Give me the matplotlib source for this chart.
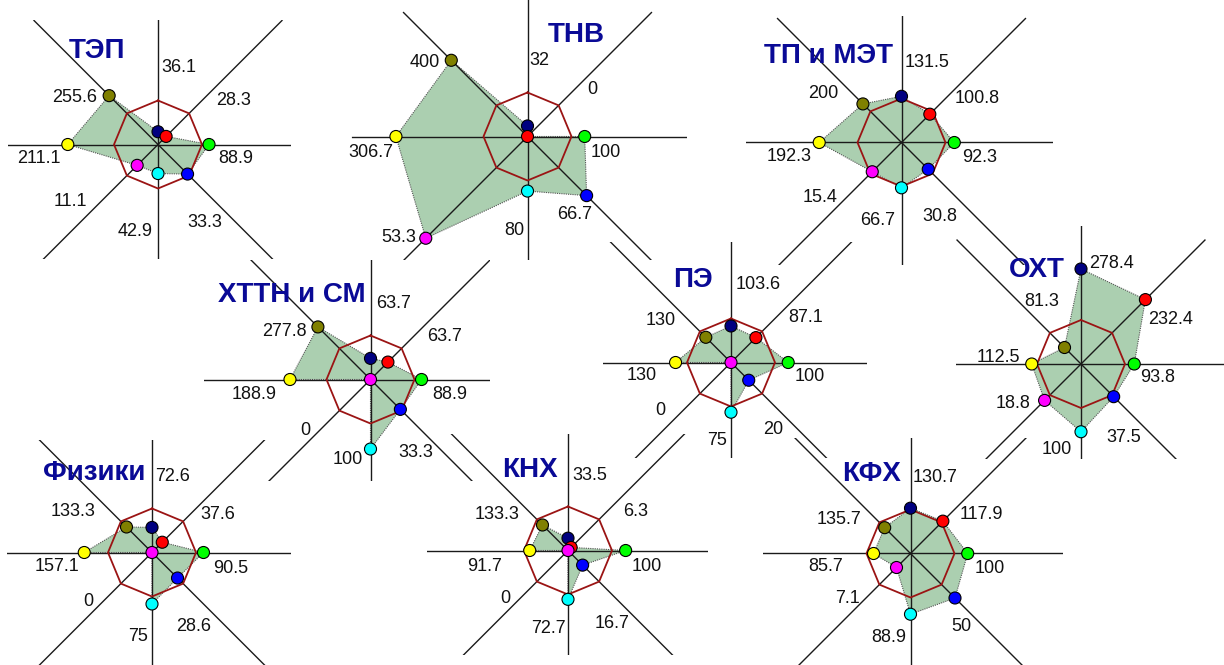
import numpy as np
import matplotlib

matplotlib.use("Agg")
import matplotlib.pyplot as plt
from matplotlib.transforms import Bbox, TransformedBbox

plt.rcParams["font.family"] = ["Liberation Sans", "DejaVu Sans"]

W, H = 1224, 665
SPOKE_MAX = 400   # value at the outer end of every spoke
SPOKE_PX = 176    # spoke length in pixels
REF_LEVEL = 100   # the red octagon

# axis order: N, NE, E, SE, S, SW, W, NW
dot_colors = ["#000080", "#ff0000", "#00ff00", "#0000ff",
              "#00ffff", "#ff00ff", "#ffff00", "#808000"]

titles = ["ТЭП", "ТНВ", "ТП и МЭТ", "ОХТ", "ХТТН и СМ", "ПЭ", "Физики", "КНХ", "КФХ"]

tep_labels = ["36.1", "28.3", "88.9", "33.3", "42.9", "11.1", "211.1", "255.6"]
tep_values = [29, 26, 116, 95, 66, 67, 205, 157]

tnv_labels = ["32", "0", "100", "66.7", "80", "53.3", "306.7", "400"]
tnv_values = [24, 0, 130, 190, 124, 327, 299, 245]

tp_labels = ["131.5", "100.8", "92.3", "30.8", "66.7", "15.4", "192.3", "200"]
tp_values = [105, 91, 120, 86, 103, 94, 187, 124]

oht_labels = ["278.4", "232.4", "93.8", "37.5", "100", "18.8", "112.5", "81.3"]
oht_values = [216, 207, 121, 105, 154, 117, 112, 53]

htt_labels = ["63.7", "63.7", "88.9", "33.3", "100", "0", "188.9", "277.8"]
htt_values = [48, 56, 116, 96, 158, 0, 183, 169]

pe_labels = ["103.6", "87.1", "100", "20", "75", "0", "130", "130"]
pe_values = [83, 80, 130, 57, 113, 0, 126, 81]

fiz_labels = ["72.6", "37.6", "90.5", "28.6", "75", "0", "157.1", "133.3"]
fiz_values = [57, 33, 117, 82, 117, 0, 154, 82]

knh_labels = ["33.5", "6.3", "100", "16.7", "72.7", "0", "91.7", "133.3"]
knh_values = [28, 10, 131, 47, 111, 0, 87, 82]

kfh_labels = ["130.7", "117.9", "100", "50", "88.9", "7.1", "85.7", "135.7"]
kfh_values = [103, 104, 130, 143, 138, 45, 84, 83]

all_labels = [tep_labels, tnv_labels, tp_labels, oht_labels, htt_labels,
              pe_labels, fiz_labels, knh_labels, kfh_labels]
all_values = [tep_values, tnv_values, tp_values, oht_values, htt_values,
              pe_values, fiz_values, knh_values, kfh_values]

# layout: chart centre, visible box (x0, y0, x1, y1), title and label offsets in pixels
centers = [(158, 144.5), (527.5, 136.5), (901.5, 142.5), (1081, 364), (370.5, 379.5),
           (731, 362.5), (152, 552.5), (568, 550.5), (910.5, 553.5)]
boxes = [(8, 20, 291, 259), (351, 0, 687, 260), (746, 16, 1053, 265),
         (956, 226, 1224, 459), (204, 260, 490, 481), (603, 242, 867, 458),
         (7, 440, 291, 665), (427, 434, 708, 655), (763, 438, 1063, 665)]
title_offsets = [(-61, -96), (49, -105), (-73, -89), (-44, -97), (-79, -87),
                 (-38, -86), (-58, -83), (-38, -84), (-39, -82)]
label_offsets = [
    [(21, -79), (76, -46), (78, 12), (47, 76), (-23, 85), (-88, 55), (-119, 12), (-83, -49)],
    [(12, -78), (65, -49), (78, 14), (47, 76), (-13, 92), (-129, 99), (-157, 14), (-103, -76)],
    [(26, -82), (76, -46), (78, 13), (38, 72), (-24, 76), (-81, 53), (-112, 12), (-78, -51)],
    [(31, -103), (90, -46), (77, 12), (43, 71), (-24, 84), (-68, 38), (-83, -9), (-39, -64)],
    [(23, -78), (74, -45), (79, 13), (45, 71), (-23, 78), (-65, 49), (-116, 13), (-86, -50)],
    [(27, -80), (75, -47), (79, 12), (42, 65), (-14, 76), (-71, 46), (-89, 11), (-70, -44)],
    [(21, -78), (66, -40), (79, 14), (42, 72), (-14, 82), (-64, 47), (-95, 12), (-79, -43)],
    [(22, -77), (68, -41), (79, 14), (44, 71), (-20, 76), (-63, 46), (-83, 14), (-71, -38)],
    [(25, -78), (71, -41), (79, 13), (51, 71), (-22, 82), (-63, 43), (-85, 11), (-72, -36)],
]

theta = np.deg2rad(np.arange(0, 360, 45))
theta_closed = np.append(theta, theta[0])

fig = plt.figure(figsize=(W / 100, H / 100), dpi=100)
fig.patch.set_facecolor("white")

for i, title in enumerate(titles):
    cx, cy = centers[i]
    ax = fig.add_axes([(cx - SPOKE_PX) / W, 1 - (cy + SPOKE_PX) / H,
                       2 * SPOKE_PX / W, 2 * SPOKE_PX / H], projection="polar")
    ax.set_theta_zero_location("N")
    ax.set_theta_direction(-1)
    ax.set_ylim(0, SPOKE_MAX)
    ax.axis("off")

    x0, y0, x1, y1 = boxes[i]
    clip = TransformedBbox(Bbox.from_extents(x0 / W, 1 - y1 / H, x1 / W, 1 - y0 / H),
                           fig.transFigure)

    values = np.array(all_values[i], dtype=float)
    drawn = []
    drawn += ax.fill(theta, values, facecolor="#abcfb0", edgecolor="none", zorder=1)
    drawn += ax.plot(theta_closed, np.append(values, values[0]), color="#555555",
                     lw=0.8, ls=(0, (1, 1)), zorder=1.5)
    for t in theta:
        drawn += ax.plot([t, t], [0, SPOKE_MAX], color="#1a1a1a", lw=1.0, zorder=2)
    drawn += ax.plot(theta_closed, np.full(9, REF_LEVEL), color="#9b1414", lw=1.3, zorder=3)
    drawn.append(ax.scatter(theta, values, s=75, c=dot_colors, edgecolors="black",
                            linewidths=0.8, zorder=4))
    for artist in drawn:
        artist.set_clip_box(clip)

    for text, (dx, dy) in zip(all_labels[i], label_offsets[i]):
        ax.annotate(text, xy=(0, 0), xytext=(dx, -dy), textcoords="offset pixels",
                    ha="center", va="center_baseline", fontsize=13, color="#111111")
    tdx, tdy = title_offsets[i]
    ax.annotate(title, xy=(0, 0), xytext=(tdx, -tdy), textcoords="offset pixels",
                ha="center", va="center_baseline", fontsize=20, fontweight="bold",
                color="#0a0a96")

fig.savefig("out.png", dpi=100, facecolor="white")
plt.close(fig)
